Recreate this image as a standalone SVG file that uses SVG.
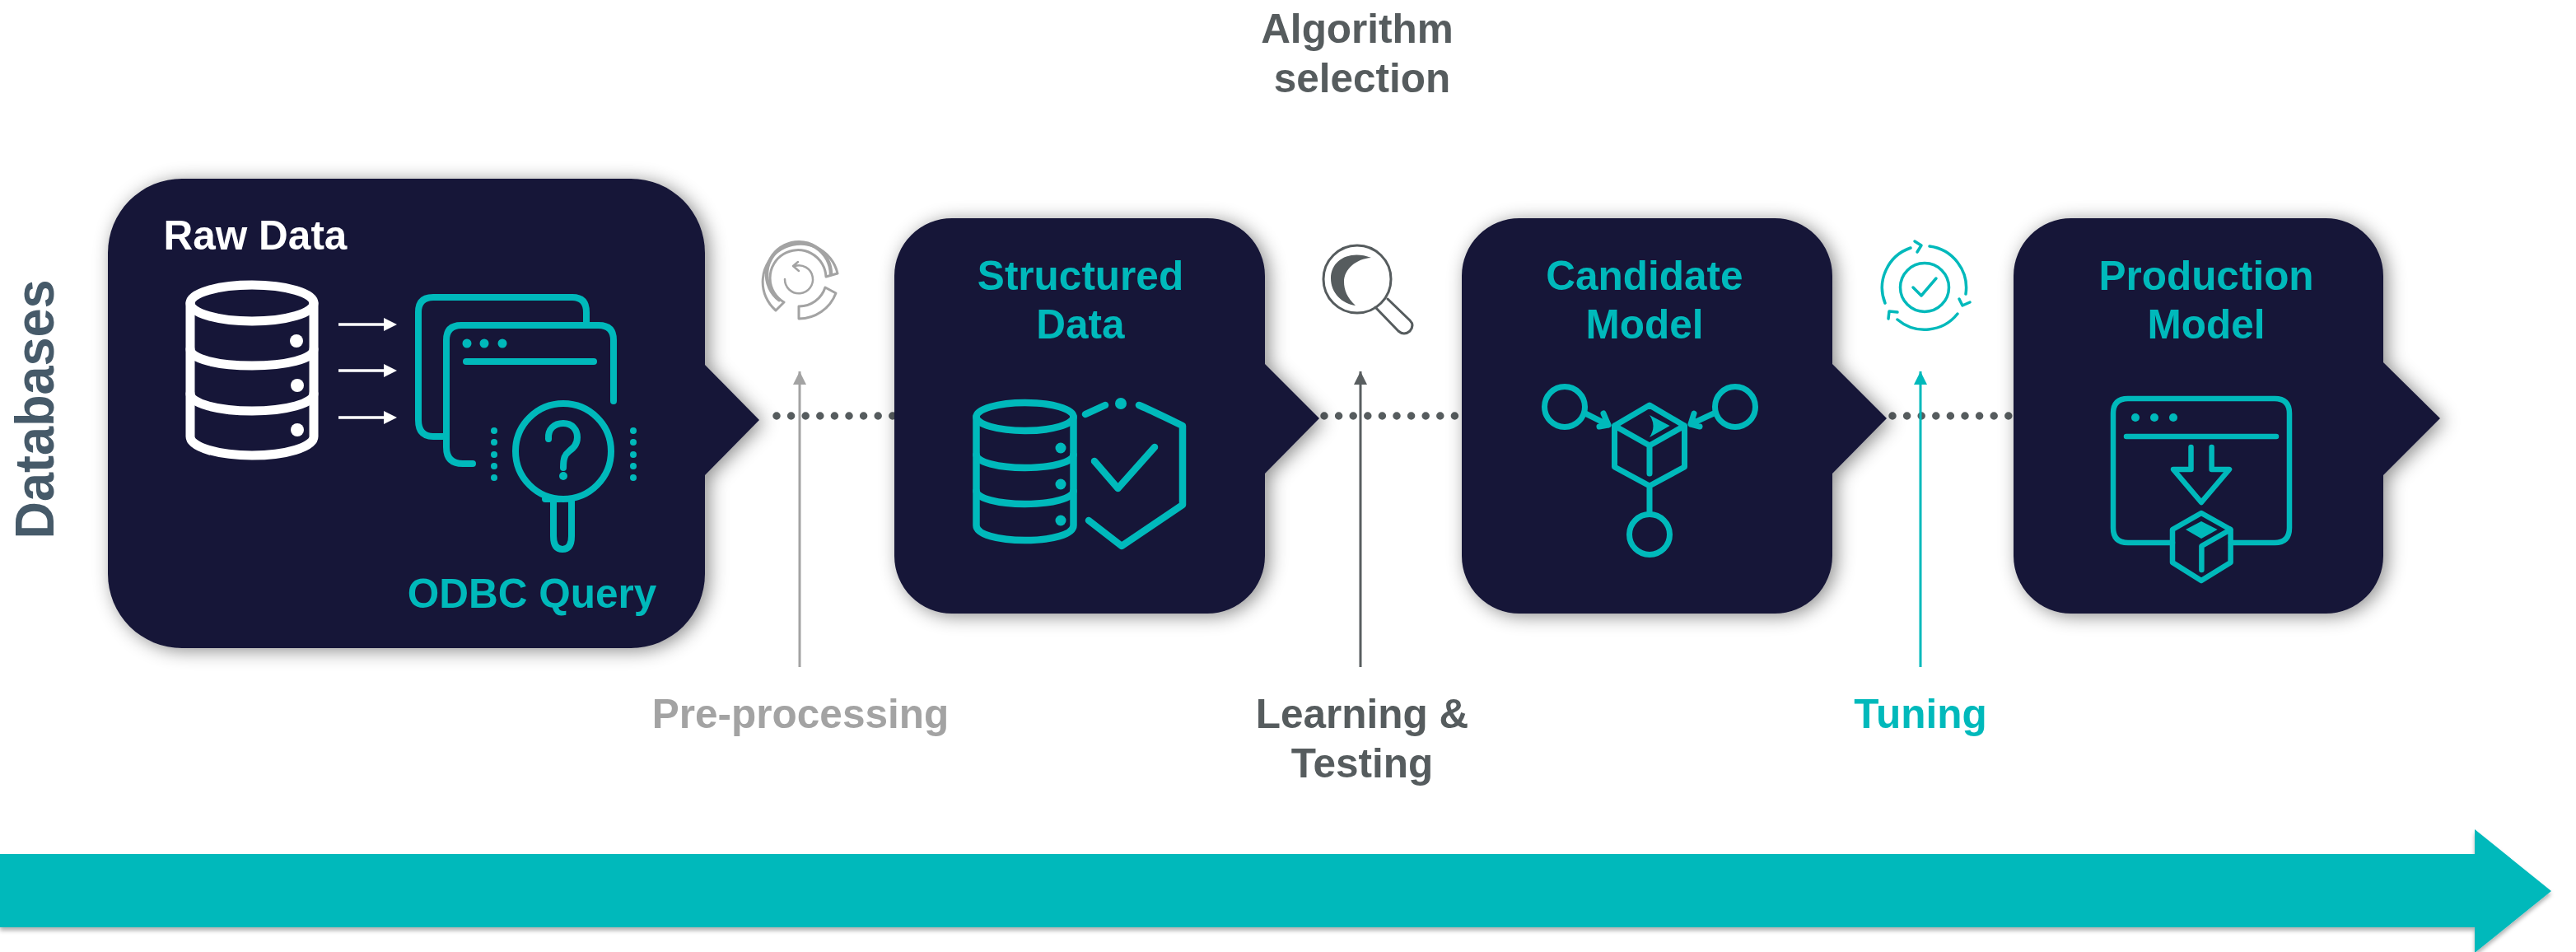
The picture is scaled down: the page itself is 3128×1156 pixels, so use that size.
<svg xmlns="http://www.w3.org/2000/svg" width="3128" height="1156" viewBox="0 0 3128 1156">
<defs>
<filter id="sh" x="-15%" y="-15%" width="130%" height="130%"><feDropShadow dx="5" dy="3" stdDeviation="11" flood-color="#000" flood-opacity="0.45"/></filter>
<filter id="sh2" x="-2%" y="-20%" width="104%" height="140%"><feDropShadow dx="0" dy="4" stdDeviation="2.5" flood-color="#000" flood-opacity="0.3"/></filter>
<marker id="mGrey" markerUnits="userSpaceOnUse" markerWidth="18" markerHeight="18" refX="16" refY="8" orient="auto"><path d="M0 0L16 8L0 16z" fill="#a3a3a3"/></marker>
<marker id="mDark" markerUnits="userSpaceOnUse" markerWidth="18" markerHeight="18" refX="16" refY="8" orient="auto"><path d="M0 0L16 8L0 16z" fill="#595e60"/></marker>
<marker id="mTeal" markerUnits="userSpaceOnUse" markerWidth="18" markerHeight="18" refX="16" refY="8" orient="auto"><path d="M0 0L16 8L0 16z" fill="#00b9bb"/></marker>
</defs>
<style>
.node{fill:#191938;filter:url(#sh)}
.t{font-family:"Liberation Sans",Arial,sans-serif;font-weight:700;font-size:49.5px;text-anchor:middle}
.teal{fill:#00b9bb}
.ts{fill:none;stroke:#00b9bb;stroke-linecap:round;stroke-linejoin:round}
.ws{fill:none;stroke:#fff;stroke-linecap:round;stroke-linejoin:round}
.dots{fill:none;stroke:#565c5e;stroke-width:9.5;stroke-linecap:round;stroke-dasharray:0 17.6}
</style>
<rect width="3128" height="1156" fill="#fff"/>

<g id="timeline"><path d="M0 1037H3005V1007L3098 1082L3005 1157V1126H0z" fill="#00b9bb" filter="url(#sh2)"/></g>

<g id="connectors">
<path class="dots" d="M943 505H1086"/>
<path class="dots" d="M1608 505H1775"/>
<path class="dots" d="M2298 505H2445"/>
<path d="M971 810V451" stroke="#a3a3a3" stroke-width="3" fill="none" marker-end="url(#mGrey)"/>
<path d="M1652 810V451" stroke="#595e60" stroke-width="3" fill="none" marker-end="url(#mDark)"/>
<path d="M2332 810V451" stroke="#00b9bb" stroke-width="3" fill="none" marker-end="url(#mTeal)"/>
</g>

<g id="raw-data">
<path class="node" d="M221 217H766A90 90 0 0 1 856 307V443L922 510L856 577V697A90 90 0 0 1 766 787H221A90 90 0 0 1 131 697V307A90 90 0 0 1 221 217z"/>
<text class="t" x="310" y="303" fill="#fff">Raw Data</text>
<g class="ws" stroke-width="11">
<ellipse cx="306" cy="368" rx="75" ry="22"/>
<path d="M231 368V530C231 543 265 553 306 553S381 543 381 530V368"/>
<path d="M231 424C231 436 265 444 306 444S381 436 381 424"/>
<path d="M231 478C231 490 265 499 306 499S381 490 381 478"/>
</g>
<g fill="#fff"><ellipse cx="360" cy="414" rx="8" ry="8"/><ellipse cx="361" cy="468" rx="8" ry="8"/><ellipse cx="361" cy="522" rx="8" ry="8"/>
<path d="M466 386L482 394L466 402zM466 442L482 450L466 458zM466 499L482 507L466 515z"/></g>
<path d="M411 394H470M411 450H470M411 507H470" stroke="#fff" stroke-width="3.5" fill="none"/>
<g class="ts" stroke-width="8">
<path d="M542 530H526Q508 530 508 510V379Q508 361 526 361H695Q712 361 712 379V393"/>
<path d="M574 563H562Q542 563 542 543V413Q542 395 560 395H727Q745 395 745 413V487"/>
<path d="M566 439H721"/>
<circle cx="684" cy="548" r="58"/>
<path d="M672 607V651Q672 667 683 667T694 651V607M662 606H678"/>
<path d="M666 533C665 521 673 514 684 514S701 522 701 531C701 540 696 544 691 548S684 556 684 568"/>
</g>
<g class="teal"><circle cx="567" cy="417" r="5.5"/><circle cx="588" cy="417" r="5.5"/><circle cx="610" cy="417" r="5.5"/><circle cx="684" cy="578" r="5"/>
<circle cx="600" cy="523" r="4"/><circle cx="600" cy="537" r="4"/><circle cx="600" cy="552" r="4"/><circle cx="600" cy="566" r="4"/><circle cx="600" cy="580" r="4"/>
<circle cx="769" cy="523" r="4"/><circle cx="769" cy="537" r="4"/><circle cx="769" cy="552" r="4"/><circle cx="769" cy="566" r="4"/><circle cx="769" cy="580" r="4"/></g>
<text class="t teal" x="646" y="738">ODBC Query</text>
</g>

<g id="structured-data">
<path class="node" d="M1156 265H1466A70 70 0 0 1 1536 335V442L1602 508L1536 575V675A70 70 0 0 1 1466 745H1156A70 70 0 0 1 1086 675V335A70 70 0 0 1 1156 265z"/>
<text class="t teal" x="1312" y="352">Structured</text>
<text class="t teal" x="1312" y="411">Data</text>
<g class="ts" stroke-width="8.5">
<ellipse cx="1244.5" cy="506" rx="59" ry="17"/>
<path d="M1185.5 506V638C1185.5 649 1212 656 1244.5 656S1303.5 649 1303.5 638V506"/>
<path d="M1185.5 552C1185.5 561 1212 568 1244.5 568S1303.5 561 1303.5 552"/>
<path d="M1185.5 596C1185.5 605 1212 612 1244.5 612S1303.5 605 1303.5 596"/>
</g>
<g class="teal"><circle cx="1288" cy="544" r="6.5"/><circle cx="1288" cy="588" r="6.5"/><circle cx="1288" cy="632" r="6.5"/><circle cx="1361" cy="490" r="7"/></g>
<g class="ts" stroke-width="8.5">
<path d="M1318 503L1342 492M1383 492Q1395 497 1436 517V613L1362 663L1322 632"/>
<path d="M1329 560L1357.5 593L1402 543"/>
</g>
</g>

<g id="candidate-model">
<path class="node" d="M1845 265H2155A70 70 0 0 1 2225 335V442L2291 508L2225 575V675A70 70 0 0 1 2155 745H1845A70 70 0 0 1 1775 675V335A70 70 0 0 1 1845 265z"/>
<text class="t teal" x="1997" y="352">Candidate</text>
<text class="t teal" x="1997" y="411">Model</text>
<g class="ts" stroke-width="7">
<circle cx="1900" cy="494" r="24.5"/><circle cx="2107" cy="494" r="24.5"/><circle cx="2003" cy="649" r="24.5"/>
<path d="M2003 492L2045.5 517V567L2003 590L1960.5 567V517zM1960.5 517L2003 541L2045.5 517M2003 541V575M2003 590V624"/>
<path d="M1925 502L1953 516M1947 502L1953 516L1942 518M2081 502L2053 515M2057 502L2053 515L2064 518"/>
</g>
<path class="teal" d="M2003 504L2027.6 517L2003 531Q2012 517 2003 504z"/>
</g>

<g id="production-model">
<path class="node" d="M2515 265H2824A70 70 0 0 1 2894 335V440L2963 508L2894 577V675A70 70 0 0 1 2824 745H2515A70 70 0 0 1 2445 675V335A70 70 0 0 1 2515 265z"/>
<text class="t teal" x="2679" y="352">Production</text>
<text class="t teal" x="2679" y="411">Model</text>
<g class="ts" stroke-width="6.5">
<path d="M2638 659H2584Q2566 659 2566 641V502Q2566 484 2584 484H2762Q2780 484 2780 502V641Q2780 659 2762 659H2709"/>
<path d="M2582 530H2764"/>
<path d="M2660.5 543V570H2639L2673 610L2707 570H2685.6V543"/>
<path d="M2673 623L2708.6 643V683L2673 705L2638 683V643zM2708.6 643L2673.4 663V692"/>
</g>
<g class="teal"><circle cx="2593" cy="507" r="5"/><circle cx="2616" cy="507" r="5"/><circle cx="2639" cy="507" r="5"/><path d="M2673 633L2692.7 643L2673 654L2654 643z"/></g>
</g>

<g id="icon-preprocessing" fill="none" stroke="#a3a3a3" stroke-linecap="round" stroke-linejoin="round">
<path stroke-width="3" d="M942 377A46 46 0 1 1 1017 332L1003 336A34 34 0 1 0 952 367z"/>
<path stroke-width="4.5" d="M946 364A39 39 0 1 1 1009 333"/>
<path stroke-width="3" d="M1015 356L1002 349A33 33 0 0 1 970 372V387A48 48 0 0 0 1015 356z"/>
<path stroke-width="2.5" d="M953 339A17 17 0 1 0 965 323M969 318L963 323L970 329"/>
</g>

<g id="icon-learning" fill="none" stroke="#565c5e" stroke-width="3" stroke-linecap="round" stroke-linejoin="round">
<circle cx="1648" cy="339" r="41"/>
<path d="M1670 373L1698 402Q1705 408 1712 402Q1718 395 1712 389L1685 363"/>
<path fill="#565c5e" stroke="none" d="M1665 313C1640 303 1616 315 1616 338C1616 356 1630 369 1646 371C1636 362 1632 352 1632 342C1632 327 1647 314 1665 313z"/>
</g>

<g id="icon-tuning" class="ts" stroke-width="3.5">
<circle cx="2337" cy="349" r="29.5"/>
<path d="M2323 349L2333 359L2351 338"/>
<path d="M2343 299A51 51 0 0 1 2387 357M2377 381A51 51 0 0 1 2304 388M2289 368A51 51 0 0 1 2320 301"/>
<path d="M2325 293L2333 298L2328 306M2379 363L2383 371L2392 367M2304 379L2294 378L2293 387"/>
</g>

<g id="labels" class="labels">
<text class="t" x="1648" y="52" fill="#565c5e">Algorithm</text>
<text class="t" x="1654" y="112" fill="#565c5e">selection</text>
<text class="t" x="972" y="884" fill="#a3a3a3">Pre-processing</text>
<text class="t" x="1654" y="884" fill="#565c5e">Learning &amp;</text>
<text class="t" x="1654" y="944" fill="#565c5e">Testing</text>
<text class="t teal" x="2332" y="884">Tuning</text>
<text class="t" transform="translate(65 497) rotate(-90) scale(1 1.05)" fill="#465a69" style="font-size:63px">Databases</text>
</g>
</svg>
